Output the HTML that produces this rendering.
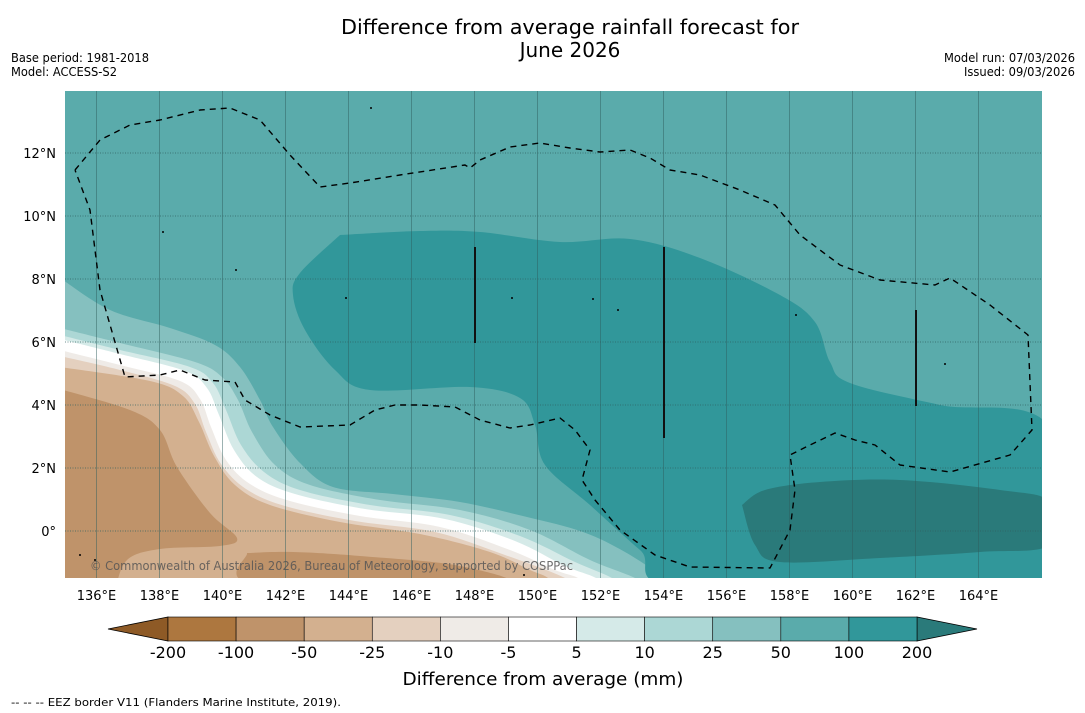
<!DOCTYPE html>
<html><head><meta charset="utf-8"><style>
html,body{margin:0;padding:0;background:#fff;}
svg{display:block;font-family:"DejaVu Sans","Liberation Sans",sans-serif;}
</style></head><body>
<svg id="chart" width="1085" height="713" viewBox="0 0 1085 713">
<rect width="1085" height="713" fill="#fff"/>
<text x="570" y="34" font-size="20" text-anchor="middle" textLength="458" lengthAdjust="spacingAndGlyphs">Difference from average rainfall forecast for</text>
<text x="570" y="57" font-size="20" text-anchor="middle">June 2026</text>
<text x="11" y="62" font-size="12" textLength="138" lengthAdjust="spacingAndGlyphs">Base period: 1981-2018</text>
<text x="11" y="76" font-size="12" textLength="106" lengthAdjust="spacingAndGlyphs">Model: ACCESS-S2</text>
<text x="1075" y="62" font-size="12" text-anchor="end" textLength="131" lengthAdjust="spacingAndGlyphs">Model run: 07/03/2026</text>
<text x="1075" y="76" font-size="12" text-anchor="end" textLength="111" lengthAdjust="spacingAndGlyphs">Issued: 09/03/2026</text>
<defs><clipPath id="pc"><rect x="65" y="91" width="977" height="487"/></clipPath></defs>
<g id="map" clip-path="url(#pc)">
<rect x="65" y="91" width="977" height="487" fill="#5aabab"/>
</g>
<g id="ticks"></g>
<g id="cbar"></g>
<text x="543" y="685" font-size="18" text-anchor="middle" textLength="281" lengthAdjust="spacingAndGlyphs">Difference from average (mm)</text>
<text x="11" y="706" font-size="11" textLength="330" lengthAdjust="spacingAndGlyphs">--  --  -- EEZ border V11 (Flanders Marine Institute, 2019).</text>
</svg>
<script>
const lonTicks=[136,138,140,142,144,146,148,150,152,154,156,158,160,162,164];
const latTicks=[12,10,8,6,4,2,0];
const cbarLevels=["-200","-100","-50","-25","-10","-5","5","10","25","50","100","200"];
const cbarColors=["#ad773f","#bf936a","#d3b08f","#e4d0bf","#efebe7","#ffffff","#d5eae8","#acd7d5","#85c0bf","#5aabab","#31979a"];
const NS="http://www.w3.org/2000/svg";
const X=lon=>65+(lon-135)*31.5, Y=lat=>531-lat*31.5;
function mk(tag,attrs,parent){const e=document.createElementNS(NS,tag);for(const k in attrs)e.setAttribute(k,attrs[k]);parent.appendChild(e);return e;}
const map=document.getElementById('map');
function smooth(pts,closed){
  let d='M'+pts[0].join(',');
  const n=pts.length;
  for(let i=0;i<n-1;i++){
    const p0=pts[i>0?i-1:(closed?n-1:0)],p1=pts[i],p2=pts[i+1],p3=pts[i+2<n?i+2:(closed?(i+2)%n:n-1)];
    const c1=[p1[0]+(p2[0]-p0[0])/6,p1[1]+(p2[1]-p0[1])/6],c2=[p2[0]-(p3[0]-p1[0])/6,p2[1]-(p3[1]-p1[1])/6];
    d+=' C'+c1.join(',')+' '+c2.join(',')+' '+p2.join(',');
  }
  return d;
}
function band(curve,fill,name){
  const d=smooth(curve,false)+' L60,583 L60,'+curve[0][1]+' Z';
  const e=mk('path',{d:d,fill:fill},map);
  
  return e;}
function blob(pts,fill,name){
  const e=mk('path',{d:smooth(pts.concat([pts[0]]),true)+' Z',fill:fill},map);
  
  return e;}
const C50=[[60,278],[110,310],[170,328],[215,345],[240,367],[260,400],[273,427],[300,463],[333,487],[393,494],[460,502],[527,517],[583,532],[625,552],[665,578],[680,590]];
const C25=[[60,328],[120,343],[195,362],[222,377],[238,400],[252,432],[275,465],[310,485],[380,500],[460,510],[530,530],[590,560],[635,578],[650,590]];
const C10=[[60,335],[120,350],[190,367],[213,383],[226,410],[241,445],[264,472],[300,490],[370,505],[450,515],[520,536],[575,562],[612,578],[625,590]];
const C5=[[60,339],[120,354],[185,371],[207,388],[219,415],[234,450],[257,477],[295,494],[365,509],[445,519],[515,541],[565,566],[596,578],[608,590]];
const Cm5=[[60,350],[120,365],[180,381],[200,399],[211,427],[226,460],[250,484],[290,501],[360,516],[440,527],[510,550],[555,570],[578,578],[590,590]];
const Cm10=[[60,356],[120,370],[175,386],[195,404],[206,432],[221,464],[246,489],[285,506],[355,521],[435,532],[505,555],[565,578],[575,590]];
const Cm25=[[60,367],[150,381],[183,396],[199,422],[214,456],[235,485],[270,505],[340,522],[420,534],[490,552],[530,570],[548,578],[555,590]];
const Cm50=[[60,389],[130,410],[160,430],[177,467],[210,513],[237,538],[220,546],[160,549],[127,560],[115,590]];
band(C50,"#85c0bf","band-25-50");
band(C25,"#acd7d5","band-10-25");
band(C10,"#d5eae8","band-5-10");
band(C5,"#ffffff","band-neutral");
band(Cm5,"#efebe7","band-minus5-minus10");
band(Cm10,"#e4d0bf","band-minus10-minus25");
band(Cm25,"#d3b08f","band-minus25-minus50");
band(Cm50,"#bf936a","band-minus50-minus100");
blob([[247,553],[293,552],[360,556],[460,566],[500,585],[258,585]],"#bf936a","band-minus50-minus100-south");
blob([[340,235],[420,231],[480,232],[560,242],[630,239],[700,258],[780,295],[815,322],[830,362],[850,383],[940,405],[1050,428],[1050,590],[690,590],[640,550],[590,505],[545,465],[535,425],[520,398],[470,387],[370,390],[335,370],[305,330],[293,295],[300,273]],"#31979a","band-100-200");
blob([[742,505],[765,490],[820,482],[900,480],[1000,490],[1050,502],[1050,545],[980,552],[880,558],[780,562],[755,545]],"#2a7a7a","band-over-200");
lonTicks.forEach(l=>{const e=mk('line',{x1:X(l),x2:X(l),y1:91,y2:578,stroke:'#2f5f5f','stroke-width':0.8,'stroke-opacity':0.6},map);

});
latTicks.forEach(l=>{const e=mk('line',{x1:65,x2:1042,y1:Y(l),y2:Y(l),stroke:'#2f5f5f','stroke-width':1,'stroke-dasharray':'1,1.5','stroke-opacity':0.7},map);

});
const eez=[[75,170],[100,140],[130,125],[160,120],[200,110],[230,108],[260,120],[290,155],[320,187],[350,183],[400,175],[465,165],[470,168],[480,160],[510,147],[540,143],[570,148],[600,152],[630,150],[650,158],[670,170],[700,175],[740,190],[775,205],[800,235],[840,265],[880,280],[935,285],[950,278],[990,305],[1028,335],[1032,430],[1010,455],[950,472],[900,465],[875,445],[855,440],[835,433],[810,445],[790,455],[795,490],[790,530],[770,568],[690,567],[655,555],[620,530],[595,500],[582,480],[590,450],[575,430],[560,418],[530,425],[510,428],[480,420],[455,407],[420,405],[395,405],[375,410],[350,425],[300,427],[270,415],[245,400],[235,382],[205,380],[180,370],[160,375],[125,377],[100,290],[90,210],[75,170]];
let e=mk('polyline',{points:eez.map(p=>p.join(',')).join(' '),fill:'none',stroke:'#000','stroke-width':1.4,'stroke-dasharray':'6,5','stroke-linejoin':'round'},map);


[[475,247,343],[664,247,438],[916,310,406]].forEach((v,i)=>{const l=mk('line',{x1:v[0],x2:v[0],y1:v[1],y2:v[2],stroke:'#111','stroke-width':2},map);

});
[[371,108],[163,232],[593,299],[796,315],[945,364],[80,555],[95,560],[524,575],[236,270],[346,298],[512,298],[618,310]].forEach((p,i)=>{const c=mk('circle',{cx:p[0],cy:p[1],r:1,fill:'#000'},map);

});
e=mk('text',{x:90,y:570,'font-size':12,fill:'#555','fill-opacity':0.85,textLength:483,lengthAdjust:'spacingAndGlyphs'},map);e.textContent='© Commonwealth of Australia 2026, Bureau of Meteorology, supported by COSPPac';


const tg=document.getElementById('ticks');
lonTicks.forEach(l=>{const t=mk('text',{x:X(l),y:600,'font-size':13,'text-anchor':'middle'},tg);t.textContent=l+'°E';

});
latTicks.forEach(l=>{const t=mk('text',{x:56,y:Y(l)+5,'font-size':13,'text-anchor':'end'},tg);t.textContent=l===0?'0°':l+'°N';

});
const cb=document.getElementById('cbar');
const x0=168,x1=917,y0=617,y1=641,w=(x1-x0)/cbarColors.length;
e=mk('polygon',{points:`${x0},${y0} ${x0},${y1} 108,629`,fill:'#8e5a26',stroke:'#000','stroke-width':0.8},cb);


e=mk('polygon',{points:`${x1},${y0} ${x1},${y1} 977,629`,fill:'#2a7a7a',stroke:'#000','stroke-width':0.8},cb);


cbarColors.forEach((c,i)=>{const r=mk('rect',{x:x0+i*w,y:y0,width:w,height:y1-y0,fill:c,stroke:'#000','stroke-width':0.6},cb);

});
cbarLevels.forEach((l,i)=>{const t=mk('text',{x:x0+i*w,y:658,'font-size':16,'text-anchor':'middle'},cb);t.textContent=l;

});
</script>
</body></html>
